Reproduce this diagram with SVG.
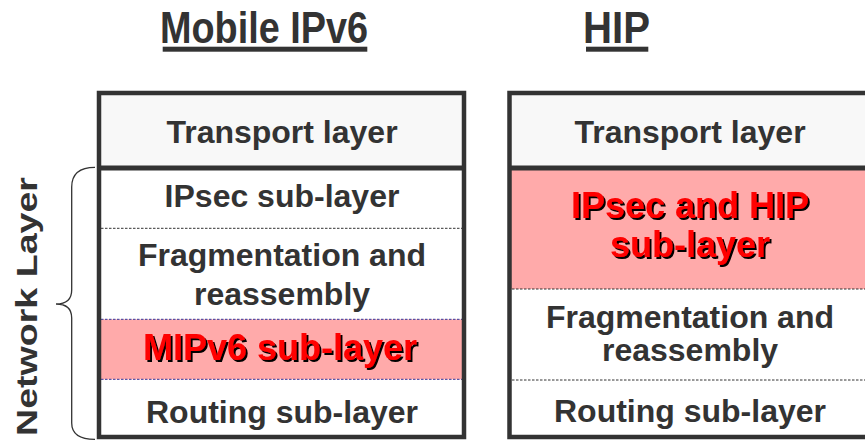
<svg xmlns="http://www.w3.org/2000/svg" width="865" height="440" viewBox="0 0 865 440">
<defs>
  <filter id="shadow" x="-5%" y="-20%" width="115%" height="150%">
    <feOffset in="SourceAlpha" dx="2" dy="2" result="off"/>
    <feFlood flood-color="#000000"/>
    <feComposite in2="off" operator="in" result="sh"/>
    <feMerge><feMergeNode in="sh"/><feMergeNode in="SourceGraphic"/></feMerge>
  </filter>
</defs>
<style>
  .t { font-family: "Liberation Sans", Arial, sans-serif; font-weight: bold; fill: #333333; }
  .body { font-size: 32px; text-anchor: middle; }
  .red { font-size: 36px; text-anchor: middle; fill: #ff0000; filter: url(#shadow); }
  .frame { fill: none; stroke: #333333; stroke-width: 4.5; }
  .div { stroke: #333333; stroke-width: 5; }
  .dash { stroke: #333333; stroke-width: 1; stroke-dasharray: 2.5 1.5; fill: none; }
  .ndash { stroke: #333399; stroke-width: 1; stroke-dasharray: 2.5 1.5; fill: none; }
  .brace { fill: none; stroke: #333333; stroke-width: 1.3; }
</style>
<rect width="865" height="440" fill="#ffffff"/>

<g id="title-mipv6">
  <text class="t" x="160" y="43.3" font-size="44" textLength="208" lengthAdjust="spacingAndGlyphs">Mobile IPv6</text>
  <rect x="162.7" y="46.7" width="204.6" height="5" fill="#333333"/>
</g>
<g id="title-hip">
  <text class="t" x="583" y="43.3" font-size="44" textLength="67" lengthAdjust="spacingAndGlyphs">HIP</text>
  <rect x="586" y="46.7" width="62.3" height="5" fill="#333333"/>
</g>

<g id="network-layer-label">
  <text class="t" font-size="30" transform="translate(37,436) rotate(-90)" x="0" y="0" textLength="259" lengthAdjust="spacingAndGlyphs">Network Layer</text>
</g>

<g id="connectors">
  <path class="brace" d="M95,167.3 C80,167.3 71.7,173 71.7,187 L71.7,290 C71.7,299 66,304 56,304 C66,304 71.7,309 71.7,318 L71.7,423 C71.7,434 80,439.3 95,439.3"/>
</g>

<g id="mipv6-stack">
  <rect x="99" y="93" width="365" height="75" fill="#f8f8f8"/>
  <rect x="99" y="319.3" width="365" height="60" fill="#ffaaaa"/>
  <line class="dash" x1="101" y1="228.3" x2="462" y2="228.3"/>
  <line class="ndash" x1="101" y1="319.3" x2="462" y2="319.3"/>
  <line class="ndash" x1="101" y1="379.3" x2="462" y2="379.3"/>
  <line class="div" x1="99" y1="168" x2="464" y2="168"/>
  <rect class="frame" x="99" y="93" width="365" height="344"/>
  <g id="mipv6-transport"><text class="t body" x="282" y="143.3">Transport layer</text></g>
  <g id="mipv6-ipsec"><text class="t body" x="282" y="207.3">IPsec sub-layer</text></g>
  <g id="mipv6-frag"><text class="t body" x="282" y="266.3">Fragmentation and</text><text class="t body" x="282" y="305.3">reassembly</text></g>
  <g id="mipv6-mip"><text class="t red" x="280" y="360">MIPv6 sub-layer</text></g>
  <g id="mipv6-routing"><text class="t body" x="282" y="423.3">Routing sub-layer</text></g>
</g>

<g id="hip-stack">
  <rect x="509.5" y="93" width="370" height="75" fill="#f8f8f8"/>
  <rect x="509.5" y="168" width="370" height="121" fill="#ffaaaa"/>
  <line class="dash" x1="512" y1="289" x2="870" y2="289"/>
  <line class="dash" x1="512" y1="380" x2="870" y2="380"/>
  <line class="div" x1="509.5" y1="168" x2="880" y2="168"/>
  <rect class="frame" x="509.5" y="93" width="370" height="344"/>
  <g id="hip-transport"><text class="t body" x="690" y="143.3">Transport layer</text></g>
  <g id="hip-ipsec">
    <text class="t red" x="690" y="218.3">IPsec and HIP</text>
    <text class="t red" x="690" y="256.7">sub-layer</text>
  </g>
  <g id="hip-frag"><text class="t body" x="690" y="328.3">Fragmentation and</text><text class="t body" x="690" y="361">reassembly</text></g>
  <g id="hip-routing"><text class="t body" x="690" y="421.7">Routing sub-layer</text></g>
</g>
</svg>
